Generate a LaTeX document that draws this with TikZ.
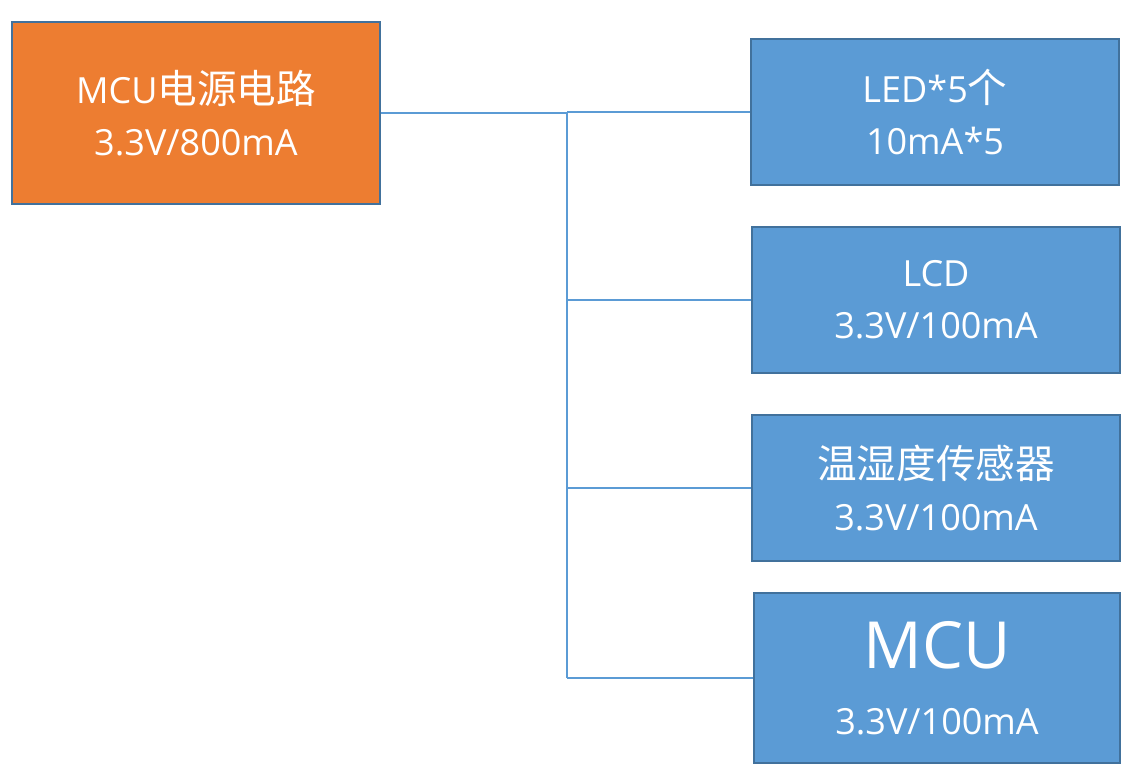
\documentclass[tikz,border=0pt]{standalone}
\usepackage{fontspec}
\setmainfont{Open Sans}
\newfontfamily\cjk[Scale=1.1]{Noto Sans CJK SC}
\usetikzlibrary{positioning}
\definecolor{mcuorange}{HTML}{ED7D31}
\definecolor{loadblue}{HTML}{5B9BD5}
\definecolor{edgeblue}{HTML}{41719C}

\tikzset{
  srcbox/.style={draw=edgeblue, fill=mcuorange, line width=0.9pt, text=white,
    minimum width=7.36cm, minimum height=3.64cm, align=center,
    font=\fontsize{20.5}{29.5}\selectfont},
  loadbox/.style={draw=edgeblue, fill=loadblue, line width=0.9pt, text=white,
    minimum width=7.36cm, minimum height=2.92cm, align=center,
    font=\fontsize{20.5}{29.5}\selectfont},
  wire/.style={loadblue, line width=0.6pt}
}

\begin{document}
\begin{tikzpicture}[x=0.02cm, y=-0.02cm]

% page
\useasboundingbox (0,0) rectangle (1138,779);

% power source
\node[srcbox] (src) at (196,113) {MCU{\cjk 电源电路}\\3.3V/800mA};

% loads
\node[loadbox] (led) at (935,112) {LED*5{\cjk 个}\\10mA*5};
\node[loadbox] (lcd) at (936,300) {LCD\\3.3V/100mA};
\node[loadbox] (sens) at (936,488) {{\cjk 温湿度传感器}\\3.3V/100mA};
\node[loadbox, minimum width=7.32cm, minimum height=3.4cm] (mcu) at (937,678)
  {{\fontsize{37}{42}\selectfont MCU}\\[8pt]3.3V/100mA};

% bus
\coordinate (bus) at (567,113);
\draw[wire] (src.east) -- (bus) -- (bus |- mcu.west);
\foreach \ld in {led, lcd, sens, mcu}
  \draw[wire] (bus |- \ld.west) -- (\ld.west);

\end{tikzpicture}
\end{document}
